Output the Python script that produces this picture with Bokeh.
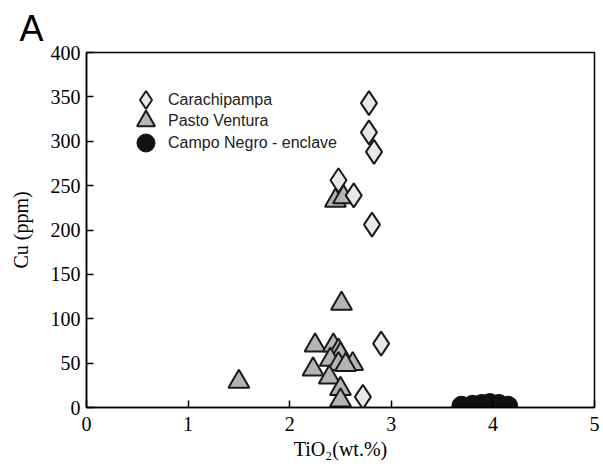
from bokeh.plotting import figure
from bokeh.models import FixedTicker, Legend, LegendItem, Title
from bokeh.embed import file_html
from bokeh.resources import INLINE

# Data (TiO2 wt.% vs Cu ppm)
cara_ti = [2.78, 2.78, 2.83, 2.48, 2.63, 2.81, 2.90, 2.72]
cara_cu = [343, 310, 288, 256, 239, 206, 72, 12]

pasto_ti = [1.50, 2.45, 2.53, 2.51, 2.25, 2.43, 2.48, 2.50, 2.40, 2.62, 2.48, 2.55, 2.23, 2.39, 2.50, 2.50]
pasto_cu = [29, 233, 237, 117, 70, 70, 64, 60, 54, 49, 49, 48, 43, 34, 21, 8]

negro_ti = [3.69, 3.80, 3.89, 3.97, 4.06, 4.15]
negro_cu = [2, 3, 4, 5, 4, 2]

x_ticks = [0, 1, 2, 3, 4, 5]
y_ticks = [0, 50, 100, 150, 200, 250, 300, 350, 400]

p = figure(width=603, height=466, x_range=(0, 5), y_range=(0, 400),
           output_backend="svg", toolbar_location=None,
           min_border_left=86, min_border_right=9, min_border_top=52, min_border_bottom=59)
p.grid.visible = False
p.outline_line_color = "black"
p.outline_line_width = 1.5
p.background_fill_color = "white"
p.border_fill_color = "white"

for ax in (p.xaxis[0], p.yaxis[0]):
    ax.axis_line_width = 1.5
    ax.axis_line_color = "black"
    ax.major_tick_in = 7
    ax.major_tick_out = 0
    ax.major_tick_line_width = 1.5
    ax.minor_tick_line_color = None
    ax.major_label_text_font = "Liberation Serif"
    ax.major_label_text_font_size = "20px"
    ax.major_label_text_color = "black"
    ax.axis_label_text_font = "Liberation Serif"
    ax.axis_label_text_font_size = "20px"
    ax.axis_label_text_font_style = "normal"
    ax.axis_label_text_color = "black"

p.xaxis.ticker = FixedTicker(ticks=x_ticks)
p.yaxis.ticker = FixedTicker(ticks=y_ticks)
p.xaxis.axis_label = "TiO\u2082(wt.%)"
p.yaxis.axis_label = "Cu (ppm)"
p.xaxis.major_label_standoff = 9
p.yaxis.major_label_standoff = 6
p.xaxis.axis_label_standoff = 4
p.yaxis.axis_label_standoff = 16

title = Title(text="A", align="left", offset=-67, standoff=4, vertical_align="top",
              text_font="Liberation Sans", text_font_size="36px",
              text_font_style="normal", text_color="black")
p.add_layout(title, "above")

r_pasto = p.scatter(pasto_ti, pasto_cu, marker="triangle", size=21,
                    fill_color="#b4b4b4", line_color="#1a1a1a", line_width=2)
r_cara = p.scatter(cara_ti, cara_cu, marker="diamond", size=24,
                   fill_color="#e8e8e8", line_color="#1a1a1a", line_width=2)
r_negro = p.scatter(negro_ti, negro_cu, marker="circle", size=19,
                    fill_color="#111111", line_color="#111111", line_width=1)

labels = ["Carachipampa", "Pasto Ventura", "Campo Negro - enclave"]
renderers = [r_cara, r_pasto, r_negro]
offsets = [285, 264, 242]
for lab, rr, oy in zip(labels, renderers, offsets):
    lg = Legend(items=[LegendItem(label=lab, renderers=[rr])],
                location=(37, oy), glyph_width=45, glyph_height=45, spacing=0,
                label_standoff=-2, padding=0, margin=0,
                border_line_color=None, background_fill_alpha=0,
                label_text_font="Liberation Sans", label_text_font_size="16px",
                label_text_color="#222222")
    p.add_layout(lg)

open("out.html", "w").write(file_html(p, INLINE))
